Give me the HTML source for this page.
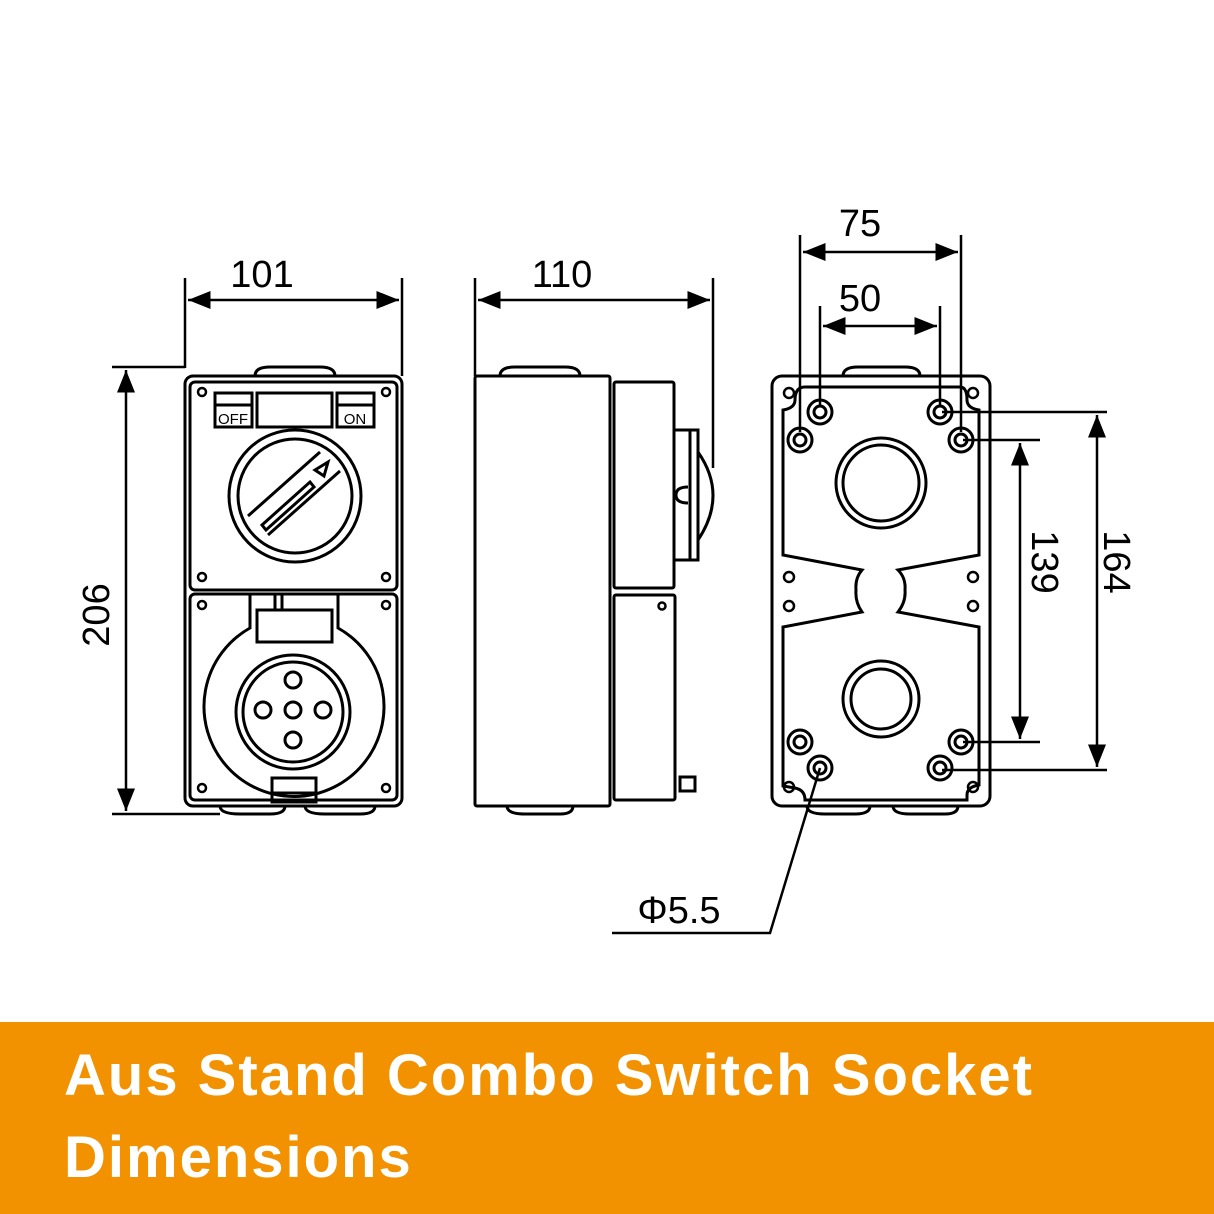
<!DOCTYPE html>
<html><head><meta charset="utf-8"><style>
html,body{margin:0;padding:0;background:#fff}
svg{display:block}
.t{font-family:"Liberation Sans",sans-serif;font-size:38px;fill:#000}
.s{font-family:"Liberation Sans",sans-serif;font-size:15px;fill:#000}
.b{font-family:"Liberation Sans",sans-serif;font-size:58px;font-weight:bold;fill:#fff;letter-spacing:2px}
</style></head><body>
<svg width="1214" height="1214" viewBox="0 0 1214 1214" xmlns="http://www.w3.org/2000/svg">
<defs>
<marker id="a" viewBox="0 0 10 10" refX="10" refY="5" markerWidth="9" markerHeight="9" orient="auto-start-reverse"><path d="M0,1 L10,5 L0,9 z" fill="#000"/></marker>
</defs>
<g fill="none" stroke="#000" stroke-width="3">
<!-- FRONT -->
<path d="M255,376 Q255,367 270,367 L320,367 Q335,367 335,376"/>
<path d="M220,806 Q220,814 240,814 L270,814 Q285,814 285,806"/>
<path d="M305,806 Q305,814 325,814 L360,814 Q375,814 375,806"/>
<rect x="185" y="376" width="217" height="430" rx="8"/>
<rect x="190" y="382" width="207" height="208" rx="5"/>
<rect x="190" y="594" width="207" height="206" rx="5"/>
<rect x="215" y="393" width="37" height="34"/>
<line x1="215" y1="405" x2="252" y2="405"/>
<rect x="257" y="393" width="75" height="34"/>
<rect x="337" y="393" width="37" height="34"/>
<line x1="337" y1="405" x2="374" y2="405"/>
<circle cx="295" cy="496" r="66"/>
<circle cx="295" cy="496" r="57"/>
<line x1="248" y1="516" x2="320" y2="452"/>
<line x1="268" y1="535" x2="340" y2="471"/>
<path d="M262,525 L310,482 L314,487 L266,530 z"/>
<path d="M315,470 L328,462 L324,476 z"/>
<path d="M250,595 L250,628 A90,90 0 1,0 338,628 L338,595"/>
<rect x="257" y="610" width="75" height="32"/>
<line x1="275" y1="595" x2="275" y2="610"/><line x1="282" y1="595" x2="282" y2="610"/>
<circle cx="293" cy="712" r="57"/>
<circle cx="293" cy="712" r="50"/>
<circle cx="293" cy="680" r="8"/><circle cx="263" cy="710" r="8"/><circle cx="293" cy="710" r="8"/><circle cx="323" cy="710" r="8"/><circle cx="293" cy="740" r="8"/>
<rect x="272" y="778" width="44" height="24"/>
<line x1="272" y1="793" x2="316" y2="793"/>
<g stroke-width="2.5">
<circle cx="202" cy="392" r="4"/><circle cx="386" cy="392" r="4"/><circle cx="202" cy="577" r="4"/><circle cx="386" cy="577" r="4"/>
<circle cx="202" cy="605" r="4"/><circle cx="386" cy="605" r="4"/><circle cx="202" cy="788" r="4"/><circle cx="386" cy="788" r="4"/>
</g>
<!-- SIDE -->
<path d="M500,376 Q500,367 515,367 L565,367 Q580,367 580,376"/>
<path d="M507,806 Q507,814 525,814 L560,814 Q573,814 573,806"/>
<rect x="475" y="376" width="135" height="430" rx="2"/>
<rect x="614" y="382" width="60" height="206" rx="2"/>
<rect x="614" y="595" width="61" height="205" rx="2"/>
<rect x="674" y="430" width="24" height="130"/>
<line x1="690" y1="430" x2="690" y2="560"/>
<path d="M698,452 Q728,495 698,540"/>
<path d="M688,487 Q676,487 676,495 Q676,503 688,503"/>
<circle cx="662" cy="606" r="3.5" stroke-width="2.5"/>
<rect x="680" y="777" width="15" height="14"/>
<!-- REAR -->
<path d="M843,376 Q843,367 858,367 L905,367 Q920,367 920,376"/>
<path d="M807,806 Q807,814 825,814 L855,814 Q870,814 870,806"/>
<path d="M893,806 Q893,814 910,814 L945,814 Q958,814 958,806"/>
<rect x="772" y="376" width="218" height="430" rx="10"/>
<path d="M805,387 L960,387 Q967,387 967,400 Q967,408 979,410 L979,555 L898,570 Q906,578 905,590 Q906,602 898,612 L979,627 L979,785 Q967,787 967,795 L967,800 L805,800 Q805,790 795,788 L783,786 L783,627 L862,612 Q855,602 856,590 Q855,578 862,570 L783,555 L783,410 Q795,408 795,400 Q795,387 805,387 z"/>
<circle cx="881" cy="483" r="45"/><circle cx="881" cy="483" r="38"/>
<circle cx="881" cy="699" r="38"/><circle cx="881" cy="699" r="30"/>
<g>
<circle cx="820" cy="412" r="12"/><circle cx="820" cy="412" r="6"/>
<circle cx="940" cy="412" r="12"/><circle cx="940" cy="412" r="6"/>
<circle cx="800" cy="440" r="12"/><circle cx="800" cy="440" r="6"/>
<circle cx="961" cy="440" r="12"/><circle cx="961" cy="440" r="6"/>
<circle cx="800" cy="742" r="12"/><circle cx="800" cy="742" r="6"/>
<circle cx="961" cy="742" r="12"/><circle cx="961" cy="742" r="6"/>
<circle cx="820" cy="768" r="12"/><circle cx="820" cy="768" r="6"/>
<circle cx="940" cy="768" r="12"/><circle cx="940" cy="768" r="6"/>
</g>
<g stroke-width="2.5">
<circle cx="789" cy="393" r="5"/><circle cx="973" cy="393" r="5"/><circle cx="789" cy="577" r="5"/><circle cx="973" cy="577" r="5"/>
<circle cx="789" cy="606" r="5"/><circle cx="973" cy="606" r="5"/><circle cx="789" cy="787" r="5"/><circle cx="973" cy="787" r="5"/>
</g>
<!-- DIMENSIONS -->
<g stroke-width="2.5">
<line x1="185" y1="278" x2="185" y2="368"/><line x1="402" y1="278" x2="402" y2="376"/>
<line x1="188" y1="300" x2="399" y2="300" marker-start="url(#a)" marker-end="url(#a)"/>
<line x1="112" y1="367" x2="185" y2="367"/><line x1="112" y1="814" x2="220" y2="814"/>
<line x1="126" y1="370" x2="126" y2="811" marker-start="url(#a)" marker-end="url(#a)"/>
<line x1="475" y1="278" x2="475" y2="376"/><line x1="713" y1="278" x2="713" y2="468"/>
<line x1="478" y1="300" x2="710" y2="300" marker-start="url(#a)" marker-end="url(#a)"/>
<line x1="800" y1="235" x2="800" y2="432"/><line x1="961" y1="235" x2="961" y2="432"/>
<line x1="803" y1="252" x2="958" y2="252" marker-start="url(#a)" marker-end="url(#a)"/>
<line x1="820" y1="306" x2="820" y2="406"/><line x1="940" y1="306" x2="940" y2="406"/>
<line x1="823" y1="326" x2="937" y2="326" marker-start="url(#a)" marker-end="url(#a)"/>
<line x1="942" y1="412" x2="1107" y2="412"/><line x1="942" y1="770" x2="1107" y2="770"/>
<line x1="1097" y1="415" x2="1097" y2="767" marker-start="url(#a)" marker-end="url(#a)"/>
<line x1="963" y1="440" x2="1040" y2="440"/><line x1="963" y1="742" x2="1040" y2="742"/>
<line x1="1020" y1="443" x2="1020" y2="739" marker-start="url(#a)" marker-end="url(#a)"/>
<polyline points="820,768 770,933 612,933"/>
</g>
</g>
<text class="s" x="233" y="424" text-anchor="middle">OFF</text>
<text class="s" x="355" y="424" text-anchor="middle">ON</text>
<text class="t" x="262" y="287" text-anchor="middle">101</text>
<text class="t" x="562" y="287" text-anchor="middle">110</text>
<text class="t" x="860" y="236" text-anchor="middle">75</text>
<text class="t" x="860" y="311" text-anchor="middle">50</text>
<text class="t" x="679" y="923" text-anchor="middle">Φ5.5</text>
<text class="t" transform="translate(109,615) rotate(-90)" text-anchor="middle">206</text>
<text class="t" transform="translate(1032,562) rotate(90)" text-anchor="middle">139</text>
<text class="t" transform="translate(1104,562) rotate(90)" text-anchor="middle">164</text>
<rect x="0" y="1022" width="1214" height="192" fill="#F39200"/>
<text class="b" x="64" y="1095">Aus Stand Combo Switch Socket</text>
<text class="b" x="64" y="1177">Dimensions</text>
</svg>
</body></html>
